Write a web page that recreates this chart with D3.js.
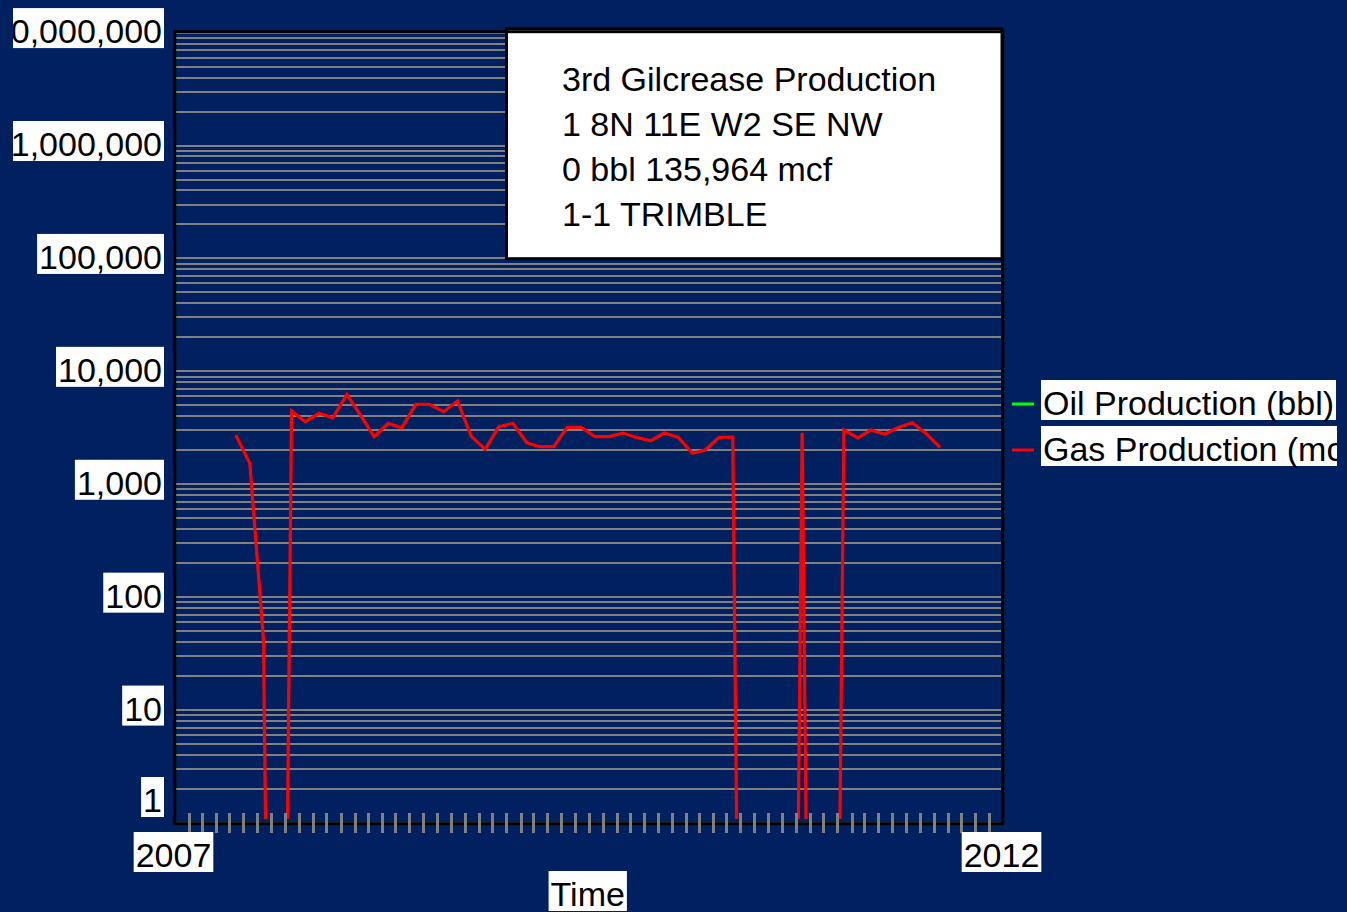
<!DOCTYPE html>
<html>
<head>
<meta charset="utf-8">
<script src="https://cdn.jsdelivr.net/npm/d3@7"></script>
<style>
  html, body { margin: 0; padding: 0; background: #002060; overflow: hidden; }
  text { font-family: "Liberation Sans", Arial, sans-serif; }
</style>
</head>
<body>
<svg id="chart" width="1347" height="912"></svg>
<script>
// ---------------- data ----------------
const months = [
  "2007-05","2007-06","2007-07","2007-08","2007-09","2007-10","2007-11","2007-12",
  "2008-01","2008-02","2008-03","2008-04","2008-05","2008-06","2008-07","2008-08","2008-09","2008-10","2008-11","2008-12",
  "2009-01","2009-02","2009-03","2009-04","2009-05","2009-06","2009-07","2009-08","2009-09","2009-10","2009-11","2009-12",
  "2010-01","2010-02","2010-03","2010-04","2010-05","2010-06","2010-07","2010-08","2010-09","2010-10","2010-11","2010-12",
  "2011-01","2011-02","2011-03","2011-04","2011-05","2011-06","2011-07","2011-08"
];
const gasProduction = [
  2730, 1530, 42, 0, 4480, 3580, 4250, 3880,
  6250, 4040, 2640, 3460, 3160, 5100, 5100, 4390, 5460, 2670, 2040, 3230,
  3460, 2330, 2150, 2150, 3190, 3190, 2640, 2640, 2840, 2600, 2430, 2840,
  2600, 1880, 2010, 2600, 2620, 0, 0, 0, 0, 2860, 0, 0,
  3020, 2580, 3020, 2770, 3190, 3510, 2820, 2120
];
const oilProduction = [
  0, 0, 0, 0, 0, 0, 0, 0,
  0, 0, 0, 0, 0, 0, 0, 0, 0, 0, 0, 0,
  0, 0, 0, 0, 0, 0, 0, 0, 0, 0, 0, 0,
  0, 0, 0, 0, 0, 0, 0, 0, 0, 0, 0, 0,
  0, 0, 0, 0, 0, 0, 0, 0
];
const yTickValues = [1, 10, 100, 1000, 10000, 100000, 1000000, 10000000];
const xTickYears = [2007, 2012];
const xAxisTitle = "Time";
const titleLines = [
  "3rd Gilcrease Production",
  "1 8N 11E W2 SE NW",
  "0 bbl 135,964 mcf",
  "1-1 TRIMBLE"
];
const legendLabels = ["Oil Production (bbl)", "Gas Production (mcf)"];
const seriesColors = ["#00ff00", "#ff0000"];

// ---------------- layout ----------------
const W = 1347, H = 912;
const plot = { left: 174.7, top: 31.7, right: 1002.8, bottom: 823.7 };
const FONT = 34;
const BG = "#002060";
const GRID = "#808080";

const svg = d3.select("#chart");
svg.append("rect").attr("width", W).attr("height", H).attr("fill", BG);

const defs = svg.append("defs");
defs.append("clipPath").attr("id", "pageClip")
  .append("rect").attr("x", 13).attr("y", 0).attr("width", 1337 - 13).attr("height", H);
defs.append("clipPath").attr("id", "plotClip")
  .append("rect").attr("x", plot.left + 1.5).attr("y", plot.top + 1.5)
  .attr("width", plot.right - plot.left - 3).attr("height", 819 - plot.top - 1.5);

const root = svg.append("g").attr("clip-path", "url(#pageClip)");

const parseMonth = s => { const [yy, mm] = s.split("-").map(Number); return new Date(yy, mm - 1, 15); };
const dates = months.map(parseMonth);

const x = d3.scaleTime()
  .domain([new Date(xTickYears[0], 0, 1), new Date(xTickYears[1], 0, 1)])
  .range([175, 1003]);
const y = d3.scaleLog().domain([1, 1e7]).range([823, 32.6]);

// ---------------- gridlines (log minor + major) ----------------
const gridValues = [];
for (let k = 0; k < 7; k++) for (let m = 1; m <= 9; m++) gridValues.push(m * Math.pow(10, k));
gridValues.push(1e7);
root.append("g").attr("shape-rendering", "crispEdges")
  .selectAll("line").data(gridValues).join("line")
  .attr("x1", plot.left + 1.5).attr("x2", plot.right - 1.5)
  .attr("y1", d => Math.round(y(d))).attr("y2", d => Math.round(y(d)))
  .attr("stroke", GRID).attr("stroke-width", 2);

// ---------------- title box ----------------
const tb = root.append("g");
tb.append("rect").attr("x", 506.5).attr("y", 28.7).attr("width", 495.5).attr("height", 230)
  .attr("fill", "#fff").attr("stroke", "#000").attr("stroke-width", 3);
tb.selectAll("text").data(titleLines).join("text")
  .attr("x", 562).attr("y", (d, i) => 91 + i * 45)
  .attr("font-size", FONT).attr("fill", "#000").text(d => d);

// ---------------- series ----------------
const ZERO_FLOOR = 1e-9; // zero values on a log axis plotted far below the axis and clipped
const line = d3.line()
  .x(d => x(d.date))
  .y(d => y(d.v > 0 ? d.v : ZERO_FLOOR));
const series = [
  { name: legendLabels[0], color: seriesColors[0], values: oilProduction },
  { name: legendLabels[1], color: seriesColors[1], values: gasProduction }
];
const lines = root.append("g").attr("clip-path", "url(#plotClip)");
series.forEach(s => {
  lines.append("path")
    .datum(s.values.map((v, i) => ({ date: dates[i], v })))
    .attr("d", line)
    .attr("fill", "none").attr("stroke", s.color).attr("stroke-width", 3.2)
    .attr("stroke-linejoin", "miter");
});

// ---------------- frame ----------------
root.append("rect")
  .attr("x", plot.left).attr("y", plot.top)
  .attr("width", plot.right - plot.left).attr("height", plot.bottom - plot.top)
  .attr("fill", "none").attr("stroke", "#000").attr("stroke-width", 3);

// ---------------- x minor ticks (monthly) ----------------
const monthTicks = d3.timeMonth.range(new Date(xTickYears[0], 1, 1), new Date(xTickYears[1], 0, 1));
root.append("g").attr("shape-rendering", "crispEdges")
  .selectAll("line").data(monthTicks).join("line")
  .attr("x1", d => Math.round(x(d))).attr("x2", d => Math.round(x(d)))
  .attr("y1", 813).attr("y2", 832.5)
  .attr("stroke", GRID).attr("stroke-width", 3);

// ---------------- label helper: white box behind text ----------------
function boxedText(g, str, xPos, baseline, anchor) {
  const grp = g.append("g");
  const r = grp.append("rect").attr("fill", "#fff");
  const t = grp.append("text").attr("x", xPos).attr("y", baseline)
    .attr("font-size", FONT).attr("fill", "#000").attr("text-anchor", anchor).text(str);
  const w = t.node().getComputedTextLength();
  let left = anchor === "end" ? xPos - w : anchor === "middle" ? xPos - w / 2 : xPos;
  r.attr("x", left - 2).attr("y", baseline - 35).attr("width", w + 4).attr("height", 40);
  return grp;
}

// ---------------- y axis labels ----------------
const fmt = d3.format(",");
const yLab = root.append("g");
yTickValues.forEach(v => {
  const top = Math.min(y(v) - 24.5, 777);
  boxedText(yLab, fmt(v), 162, top + 35, "end");
});

// ---------------- x axis labels ----------------
const xLab = root.append("g");
xTickYears.forEach(yr => {
  boxedText(xLab, String(yr), x(new Date(yr, 0, 1)) - 1.5, 867, "middle");
});
boxedText(xLab, xAxisTitle, (plot.left + plot.right) / 2 - 1, 906, "middle");

// ---------------- legend ----------------
const leg = root.append("g");
series.forEach((s, i) => {
  const cy = 404 + i * 46;
  leg.append("line").attr("x1", 1012).attr("x2", 1034).attr("y1", cy).attr("y2", cy)
    .attr("stroke", s.color).attr("stroke-width", 3);
  boxedText(leg, s.name, 1043, cy + 11, "start");
});
</script>
</body>
</html>
